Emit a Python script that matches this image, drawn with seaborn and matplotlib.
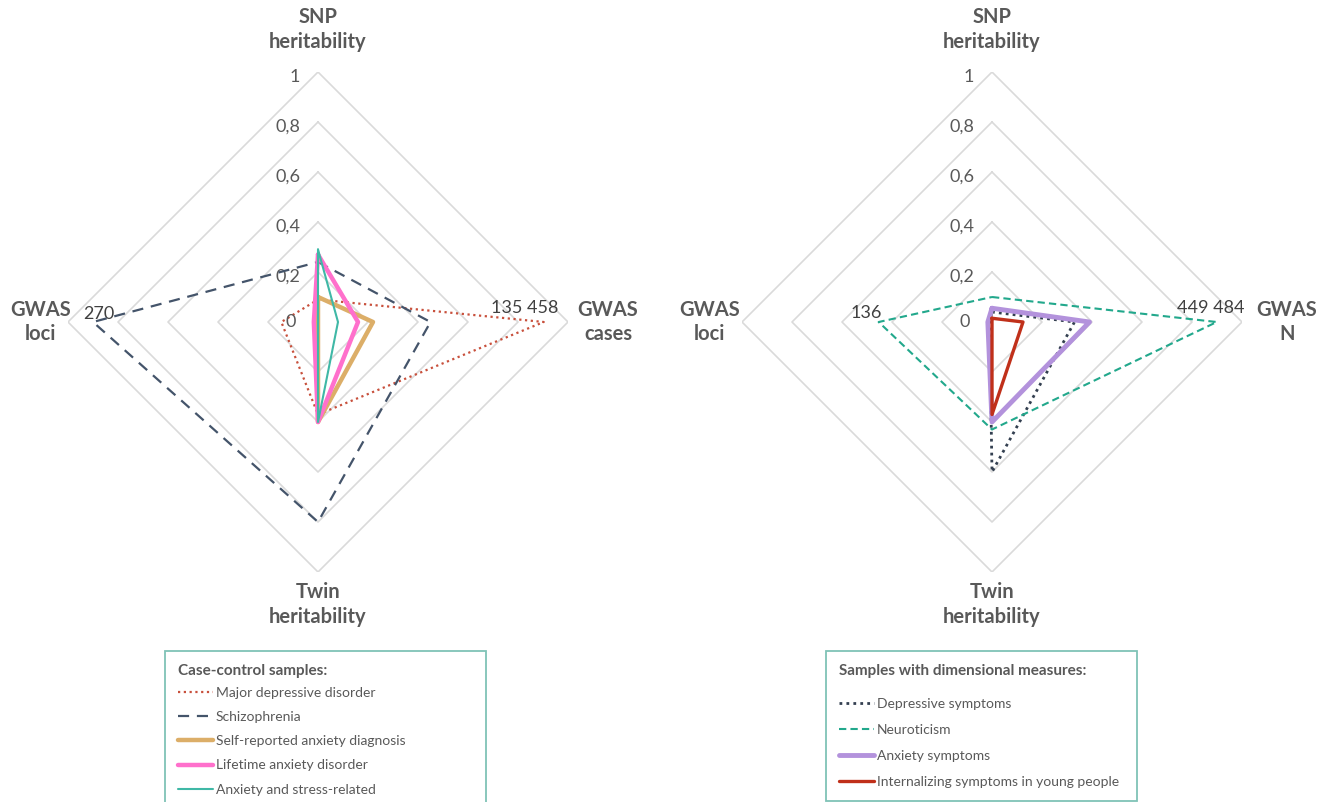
import numpy as np
import matplotlib
matplotlib.use("Agg")
import matplotlib.pyplot as plt
import seaborn as sns

sns.set_theme(style="white")
plt.rcParams['font.family'] = ['Lato', 'DejaVu Sans']

# ---- data ----
levels = [0.2, 0.4, 0.6, 0.8, 1.0]
level_labels = ["0,2", "0,4", "0,6", "0,8", "1"]

# left panel: case-control samples
left_names = ["Major depressive disorder", "Schizophrenia", "Self-reported anxiety diagnosis",
              "Lifetime anxiety disorder", "Anxiety and stress-related"]
left_snp = [0.09, 0.24, 0.10, 0.27, 0.29]
left_cases = [135458, 67500, 33000, 24000, 12000]
left_twin = [0.37, 0.80, 0.40, 0.40, 0.40]
left_loci = [44, 270, 0, 5, 0]
left_cases_max = 150000
left_loci_max = 300

# right panel: dimensional measures
right_names = ["Depressive symptoms", "Neuroticism", "Anxiety symptoms",
               "Internalizing symptoms in young people"]
right_snp = [0.04, 0.10, 0.055, 0.015]
right_n = [165000, 449484, 195000, 62000]
right_twin = [0.60, 0.43, 0.40, 0.37]
right_loci = [3, 136, 5, 0]
right_n_max = 500000
right_loci_max = 300

left_styles = [
    dict(color="#c8503c", lw=1.6, ls=(0, (1, 1.6))),
    dict(color="#44546a", lw=1.6, ls=(0, (5, 3.5))),
    dict(color="#dcae68", lw=3.2, ls="-"),
    dict(color="#ff70cc", lw=3.2, ls="-"),
    dict(color="#3fb8a6", lw=1.5, ls="-"),
]
right_styles = [
    dict(color="#333f50", lw=2.0, ls=(0, (1, 1.5))),
    dict(color="#22a88c", lw=1.5, ls=(0, (3.5, 2))),
    dict(color="#b392dc", lw=3.5, ls="-"),
    dict(color="#c0301a", lw=2.4, ls="-"),
]

grey = "#595959"
angles = np.array([0, 0.5, 1.0, 1.5, 2.0]) * np.pi

fig = plt.figure(figsize=(13.26, 8.02), dpi=100)


def fmt(v):
    return f"{v:,}".replace(",", " ")


def radar(rect, axis_titles, title_r, names, snp, mid, twin, loci, mid_max, loci_max,
          styles, labels_at):
    ax = fig.add_axes(rect, projection="polar")
    ax.set_theta_zero_location("N")
    ax.set_theta_direction(-1)
    ax.set_facecolor("none")
    for lvl in levels:
        ax.plot(angles, [lvl] * 5, color="#dadada", lw=1.2, zorder=0)
    for i, name in enumerate(names):
        r = [snp[i], mid[i] / mid_max, twin[i], loci[i] / loci_max]
        r = r + [r[0]]
        st = styles[i]
        sns.lineplot(x=angles, y=r, sort=False, estimator=None, ax=ax, color=st["color"],
                     lw=st["lw"], linestyle=st["ls"], label=name, zorder=3 + i)
    ax.set_ylim(0, 1)
    ax.set_xticks([])
    ax.set_yticks([])
    ax.grid(False)
    ax.spines["polar"].set_visible(False)
    ax.set_xlabel("")
    ax.set_ylabel("")
    if ax.get_legend() is not None:
        ax.get_legend().remove()
    # radial value labels
    ax.annotate("0", xy=(0, 0), xytext=(-22, 0), textcoords="offset pixels",
                ha="right", va="center", fontsize=13, color=grey)
    for lvl, lab in zip(levels, level_labels):
        ax.annotate(lab, xy=(0, lvl), xytext=(-18, -5), textcoords="offset pixels",
                    ha="right", va="center", fontsize=13, color=grey)
    # axis titles
    for ang, txt, rr in zip(angles[:4], axis_titles, title_r):
        ax.text(ang, rr, txt, ha="center", va="center", fontsize=14.5, fontweight="bold",
                color=grey, linespacing=1.3)
    # data labels
    for ang, val, frac, dx, dy, ha in labels_at:
        ax.annotate(fmt(val), xy=(ang, frac), xytext=(dx, dy), textcoords="offset pixels",
                    ha=ha, va="center", fontsize=13, color="#404040")
    return ax


ax1 = radar([68 / 1326, 1 - 572 / 802, 500 / 1326, 500 / 802],
            ["SNP\nheritability", "GWAS\ncases", "Twin\nheritability", "GWAS\nloci"],
            [1.17, 1.16, 1.13, 1.11],
            left_names, left_snp, left_cases, left_twin, left_loci,
            left_cases_max, left_loci_max, left_styles,
            [(1.5 * np.pi, left_loci[1], left_loci[1] / left_loci_max, -10, 8, "left"),
             (0.5 * np.pi, left_cases[0], left_cases[0] / left_cases_max, 15, 14, "right")])

ax2 = radar([742 / 1326, 1 - 572 / 802, 500 / 1326, 500 / 802],
            ["SNP\nheritability", "GWAS\nN", "Twin\nheritability", "GWAS\nloci"],
            [1.17, 1.18, 1.13, 1.13],
            right_names, right_snp, right_n, right_twin, right_loci,
            right_n_max, right_loci_max, right_styles,
            [(1.5 * np.pi, right_loci[1], right_loci[1] / right_loci_max, 3, 9, "right"),
             (0.5 * np.pi, right_n[1], right_n[1] / right_n_max, 28, 14, "right")])


def box_legend(ax, title, x0, y0, w, spacing, sep):
    handles = [l for l in ax.get_lines() if not l.get_label().startswith("_")]
    leg = fig.legend(handles=handles, labels=[h.get_label() for h in handles],
                     loc="upper left", bbox_to_anchor=(x0 / 1326, 1 - y0 / 802, w / 1326, 0.001),
                     mode="expand", fontsize=10, title=title, alignment="left",
                     title_fontproperties={"weight": "bold", "size": 11},
                     frameon=True, fancybox=False, edgecolor="#5fb3a5",
                     handlelength=2.5, handletextpad=0.2, labelspacing=spacing,
                     borderpad=0.95, borderaxespad=0)
    leg.get_frame().set_linewidth(1.3)
    leg._legend_box.sep = sep
    leg.get_title().set_color(grey)
    for t in leg.get_texts():
        t.set_color(grey)
    return leg


box_legend(ax1, "Case-control samples:", 165, 652, 321, 0.88, 6)
box_legend(ax2, "Samples with dimensional measures:", 826, 652, 311, 1.0, 14)

fig.savefig("out.png", dpi=100)
